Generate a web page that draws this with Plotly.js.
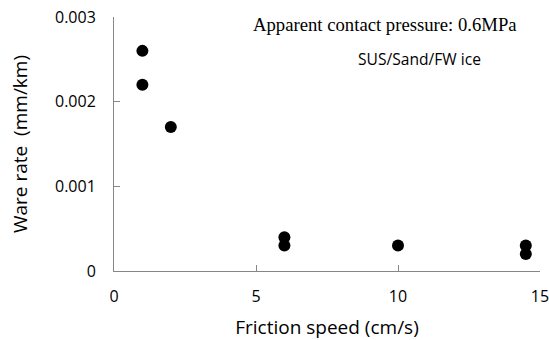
<!DOCTYPE html>
<html>
<head>
<meta charset="utf-8">
<script src="https://cdn.plot.ly/plotly-3.0.1.min.js"></script>
<style>html,body{margin:0;padding:0;background:#fff;}#chart{width:549px;height:340px;}</style>
</head>
<body>
<div id="chart"></div>
<script>
const frictionSpeed = [1, 1, 2, 6, 6, 10, 14.5, 14.5];
const wareRate = [0.0026, 0.0022, 0.0017, 0.0004, 0.0003, 0.0003, 0.0003, 0.0002];
const xTicks = [0, 5, 10, 15];
const yTicks = [0, 0.001, 0.002, 0.003];
const yTickLabels = ['0', '0.001', '0.002', '0.003'];

const sans = 'Open Sans, Noto Sans, sans-serif';
const trace = {
  x: frictionSpeed, y: wareRate, type: 'scatter', mode: 'markers',
  marker: {color: '#000', size: 12, symbol: 'circle'},
  showlegend: false, hoverinfo: 'skip'
};
const layout = {
  width: 549, height: 340,
  margin: {l: 114, r: 9, t: 17, b: 69},
  paper_bgcolor: '#fff', plot_bgcolor: '#fff',
  font: {family: sans, color: '#000', size: 16},
  xaxis: {
    range: [0, 15], tickvals: xTicks, ticktext: xTicks.map(String),
    showgrid: false, zeroline: false, showline: true, linecolor: '#868686', linewidth: 1,
    ticks: 'inside', ticklen: 6, tickcolor: '#868686', tickwidth: 1,
    tickfont: {family: sans, size: 16, color: '#000'}, ticklabelstandoff: 11,
    ticklabeloverflow: 'allow',
    title: {text: 'Friction speed (cm/s)', font: {family: sans, size: 19, color: '#000'}, standoff: 15}
  },
  yaxis: {
    range: [0, 0.003], tickvals: yTicks, ticktext: yTickLabels,
    showgrid: false, zeroline: false, showline: true, linecolor: '#868686', linewidth: 1,
    ticks: 'inside', ticklen: 6, tickcolor: '#868686', tickwidth: 1,
    tickfont: {family: sans, size: 16, color: '#000'}, ticklabelstandoff: 14,
    ticklabeloverflow: 'allow',
    title: {text: 'Ware rate  (mm/km)', font: {family: sans, size: 19, color: '#000'}, standoff: 22}
  },
  annotations: [
    {x: 385, y: 25, text: 'Apparent contact pressure: 0.6MPa', showarrow: false,
     font: {family: 'Liberation Serif, Times New Roman, serif', size: 18.7, color: '#000'}},
    {x: 419, y: 59, text: 'SUS/Sand/FW ice', showarrow: false,
     font: {family: sans, size: 15.6, color: '#000'}}
  ]
};
// place annotations in pixel coordinates converted to paper coords
const pw = 549 - 114 - 9, ph = 340 - 17 - 69;
layout.annotations.forEach(a => {
  a.xref = 'paper'; a.yref = 'paper';
  a.x = (a.x - 114) / pw; a.y = 1 - (a.y - 17) / ph;
  a.xanchor = 'center'; a.yanchor = 'middle';
});
Plotly.newPlot('chart', [trace], layout, {staticPlot: true, displayModeBar: false});
</script>
</body>
</html>
